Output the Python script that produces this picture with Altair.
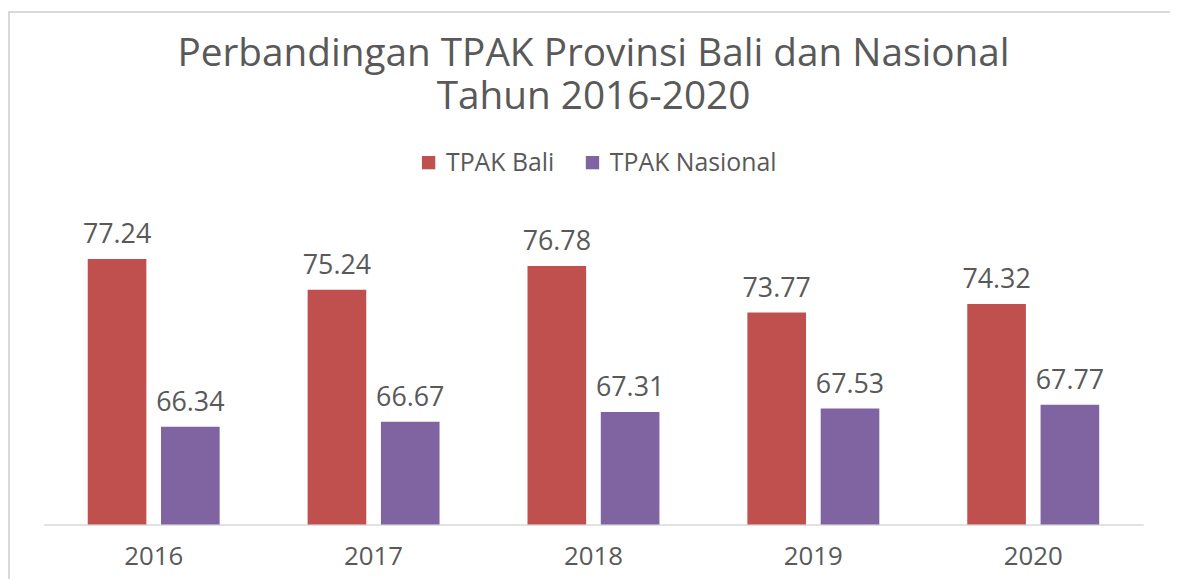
import altair as alt
import pandas as pd

years = ["2016", "2017", "2018", "2019", "2020"]
bali = [77.24, 75.24, 76.78, 73.77, 74.32]
nasional = [66.34, 66.67, 67.31, 67.53, 67.77]
series = ["TPAK Bali", "TPAK Nasional"]
colors = ["#C0504D", "#8064A2"]

rows = []
for y, b, n in zip(years, bali, nasional):
    rows.append({"year": y, "series": series[0], "value": b, "label": f"{b:.2f}"})
    rows.append({"year": y, "series": series[1], "value": n, "label": f"{n:.2f}"})
df = pd.DataFrame(rows)

TXT = "#595959"
FONT = "Open Sans"

x = alt.X("year:N", sort=years,
          scale=alt.Scale(paddingInner=0.4, paddingOuter=0.2),
          axis=alt.Axis(title=None, labelAngle=0, ticks=False, domainColor="#d9d9d9",
                        domainWidth=1.5, labelColor=TXT, labelFont=FONT, labelFontSize=26,
                        labelPadding=19))
xo = alt.XOffset("series:N", sort=series, scale=alt.Scale(paddingInner=0.2, paddingOuter=0))
y = alt.Y("value:Q", scale=alt.Scale(domain=[60, 80]), axis=None)
color = alt.Color("series:N", sort=series, scale=alt.Scale(domain=series, range=colors),
                  legend=alt.Legend(title=None, orient="none", legendX=375, legendY=-67,
                                    direction="horizontal", symbolType="square", symbolSize=180,
                                    symbolStrokeWidth=0, labelFontSize=25, labelFont=FONT,
                                    labelColor=TXT, labelLimit=400, columnPadding=25,
                                    labelOffset=5))

base = alt.Chart(df)

frame = base.mark_rect(fillOpacity=0, stroke="#d9d9d9", strokeWidth=2, clip=False).encode(
    x=alt.value(-35), x2=alt.value(1200), y=alt.value(-206), y2=alt.value(700)
)

bars = base.mark_bar().encode(x=x, xOffset=xo, y=y, y2=alt.datum(60), color=color)
labels = base.mark_text(baseline="bottom", dy=-10, fontSize=27, font=FONT, color=TXT).encode(
    x=x, xOffset=xo, y=y, text="label:N"
)

chart = alt.layer(frame, bars, labels).properties(
    width=1107, height=310,
    autosize=alt.AutoSizeParams(type="none"),
    padding={"left": 36, "top": 208, "right": 27, "bottom": 53},
    title=alt.TitleParams(text=["Perbandingan TPAK Provinsi Bali dan Nasional", "Tahun 2016-2020"],
                          fontSize=39, font=FONT, color=TXT, fontWeight="normal",
                          anchor="middle", frame="group", lineHeight=44, offset=-107),
).configure_view(stroke=None)

chart.save("out.html", embed_options={"renderer": "svg", "actions": False})
